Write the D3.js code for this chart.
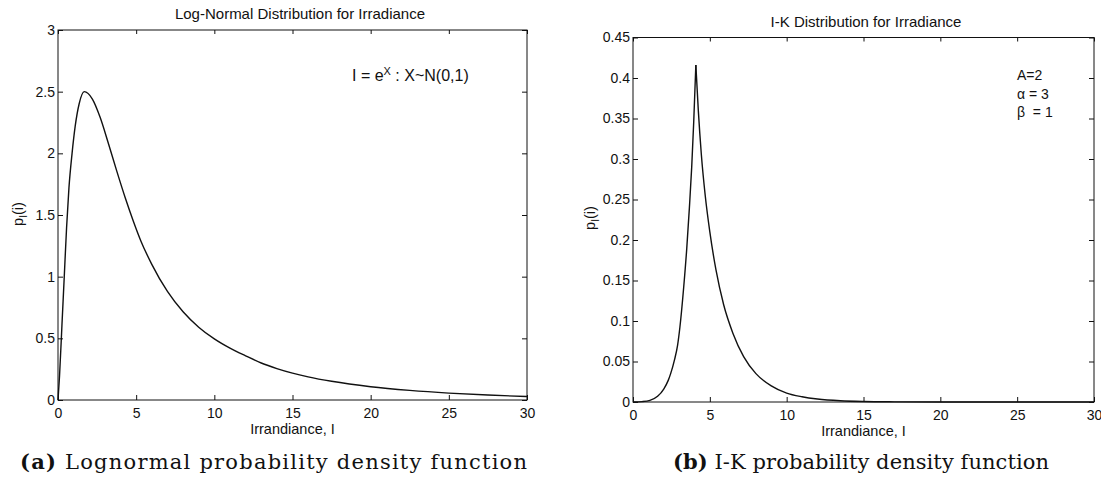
<!DOCTYPE html>
<html>
<head>
<meta charset="utf-8">
<script src="https://cdn.jsdelivr.net/npm/d3@7"></script>
<style>
  body { margin: 0; background: #fff; }
  svg { display: block; }
</style>
</head>
<body>
<div id="chart"></div>
<script>
// values

// (a) lognormal pdf
const lnX = [0, 0.1, 0.25, 0.4, 0.55, 0.7, 0.9, 1.1, 1.35, 1.68, 2.2, 2.7, 3.2, 3.75, 4.3, 4.82, 5.3, 6, 7, 8, 9, 10, 11, 12, 13, 14, 15, 16, 17.5, 20, 22.5, 25, 27.5, 30];
const lnY = [0, 0.2, 0.6, 1.0, 1.4, 1.72, 2.0, 2.22, 2.4, 2.5, 2.44, 2.29, 2.09, 1.86, 1.64, 1.45, 1.29, 1.1, 0.88, 0.715, 0.59, 0.495, 0.42, 0.358, 0.3, 0.255, 0.218, 0.188, 0.152, 0.108, 0.078, 0.056, 0.04, 0.028];

// (b) I-K pdf, rising branch up to the cusp, then falling branch
const ikRiseX = [0, 0.6, 1.1, 1.6, 2.0, 2.3, 2.45, 2.7, 2.9, 3.05, 3.3, 3.5, 3.67, 3.82, 3.95, 4.09];
const ikRiseY = [0, 0.0005, 0.002, 0.007, 0.016, 0.027, 0.035, 0.052, 0.07, 0.092, 0.142, 0.19, 0.24, 0.29, 0.345, 0.416];
const ikFallX = [4.09, 4.25, 4.45, 4.7, 5.0, 5.4, 5.9, 6.5, 7.2, 8.0, 9.0, 10, 11, 12, 13.5, 15, 17, 20, 25, 30];
const ikFallY = [0.416, 0.36, 0.305, 0.255, 0.21, 0.163, 0.12, 0.085, 0.056, 0.035, 0.02, 0.011, 0.0065, 0.0037, 0.0015, 0.0006, 0.0002, 0, 0, 0];

const xTicks = [0, 5, 10, 15, 20, 25, 30];
const lnYTicks = [0, 0.5, 1, 1.5, 2, 2.5, 3];
const lnYLabels = ["0", "0.5", "1", "1.5", "2", "2.5", "3"];
const ikYTicks = [0, 0.05, 0.1, 0.15, 0.2, 0.25, 0.3, 0.35, 0.4, 0.45];
const ikYLabels = ["0", "0.05", "0.1", "0.15", "0.2", "0.25", "0.3", "0.35", "0.4", "0.45"];

const W = 1101, H = 483;
const sans = "'Liberation Sans', Arial, Helvetica, sans-serif";
const ink = "#111";

const svg = d3.select("#chart").append("svg")
    .attr("width", W)
    .attr("height", H);

// one MATLAB-like axes box with inward ticks on all four sides
function drawPanel(opts) {
    const x = d3.scaleLinear().domain([0, 30]).range([opts.left, opts.right]);
    const y = d3.scaleLinear().domain([0, opts.ymax]).range([opts.bottom, opts.top]);
    const g = svg.append("g");

    const styleAxis = sel => {
        sel.select(".domain").remove();
        sel.selectAll("line").attr("stroke", ink);
        sel.selectAll("text")
            .attr("fill", ink)
            .style("font-family", sans)
            .style("font-size", "14px");
    };

    g.append("g")
        .attr("transform", `translate(0,${opts.bottom})`)
        .call(d3.axisBottom(x).tickValues(xTicks).tickSizeInner(-5).tickSizeOuter(0).tickPadding(8).tickFormat(d3.format("d")))
        .call(styleAxis);
    g.append("g")
        .attr("transform", `translate(0,${opts.top})`)
        .call(d3.axisTop(x).tickValues(xTicks).tickSizeInner(-4).tickSizeOuter(0).tickFormat(""))
        .call(styleAxis);
    g.append("g")
        .attr("transform", `translate(${opts.left},0)`)
        .call(d3.axisLeft(y).tickValues(opts.yTicks).tickSizeInner(-5).tickSizeOuter(0).tickPadding(3)
            .tickFormat((d, i) => opts.yLabels[i]))
        .call(styleAxis);
    g.append("g")
        .attr("transform", `translate(${opts.right},0)`)
        .call(d3.axisRight(y).tickValues(opts.yTicks).tickSizeInner(-5).tickSizeOuter(0).tickFormat(""))
        .call(styleAxis);

    g.append("rect")
        .attr("x", opts.left)
        .attr("y", opts.top)
        .attr("width", opts.right - opts.left)
        .attr("height", opts.bottom - opts.top)
        .attr("fill", "none")
        .attr("stroke", ink)
        .attr("stroke-width", 1);

    const line = d3.line()
        .x(d => x(d[0]))
        .y(d => y(d[1]))
        .curve(d3.curveMonotoneX);

    opts.series.forEach(s => {
        g.append("path")
            .datum(d3.zip(s[0], s[1]))
            .attr("d", line)
            .attr("fill", "none")
            .attr("stroke", ink)
            .attr("stroke-width", 1.4)
            .attr("stroke-linejoin", "round");
    });

    // title
    g.append("text")
        .attr("x", opts.titleX)
        .attr("y", opts.titleY)
        .attr("text-anchor", "middle")
        .style("font-family", sans)
        .style("font-size", "15px")
        .attr("fill", ink)
        .text(opts.title);

    // x label
    g.append("text")
        .attr("x", (opts.left + opts.right) / 2)
        .attr("y", opts.bottom + 34)
        .attr("text-anchor", "middle")
        .style("font-family", sans)
        .style("font-size", "14.5px")
        .attr("fill", ink)
        .text("Irrandiance, I");

    // y label p_I(i)
    const yl = g.append("text")
        .attr("transform", `translate(${opts.ylabelX},${opts.ylabelY}) rotate(-90)`)
        .attr("text-anchor", "middle")
        .style("font-family", sans)
        .style("font-size", "14.5px")
        .attr("fill", ink);
    yl.append("tspan").text("p");
    yl.append("tspan").attr("dy", 4).style("font-size", "10px").text("I");
    yl.append("tspan").attr("dy", -4).text("(i)");

    return { g, x, y };
}

const left = drawPanel({
    left: 58, right: 527, top: 30, bottom: 400,
    ymax: 3, yTicks: lnYTicks, yLabels: lnYLabels,
    series: [[lnX, lnY]],
    title: "Log-Normal Distribution for Irradiance", titleX: 300, titleY: 19,
    ylabelX: 23, ylabelY: 214
});

const right = drawPanel({
    left: 633, right: 1094, top: 37.5, bottom: 402,
    ymax: 0.45, yTicks: ikYTicks, yLabels: ikYLabels,
    series: [[ikRiseX, ikRiseY], [ikFallX, ikFallY]],
    title: "I-K Distribution for Irradiance", titleX: 866, titleY: 26.5,
    ylabelX: 595, ylabelY: 218
});

// annotation, left panel
const ann = left.g.append("text")
    .attr("x", 352)
    .attr("y", 81)
    .style("font-family", sans)
    .style("font-size", "16px")
    .attr("fill", ink);
ann.append("tspan").text("I = e");
ann.append("tspan").attr("dy", -6).style("font-size", "11px").text("X");
ann.append("tspan").attr("dy", 6).text(" : X~N(0,1)");

// annotation, right panel
const params = ["A=2", "\u03b1 = 3", "\u03b2  = 1"];
right.g.selectAll(".param")
    .data(params)
    .join("text")
    .attr("class", "param")
    .attr("x", 1017)
    .attr("y", (d, i) => 80 + i * 18.5)
    .style("font-family", sans)
    .style("font-size", "14px")
    .style("white-space", "pre")
    .attr("fill", ink)
    .text(d => d);

// sub-figure captions
const captions = [
    { tag: "(a)", text: " Lognormal probability density function", x: 20, len: 507 },
    { tag: "(b)", text: " I-K probability density function", x: 673, len: 376 }
];
captions.forEach(c => {
    const t = svg.append("text")
        .attr("x", c.x)
        .attr("y", 469)
        .attr("textLength", c.len)
        .attr("lengthAdjust", "spacing")
        .style("font-family", "'DejaVu Serif', 'Liberation Serif', serif")
        .style("font-size", "21px")
        .style("white-space", "pre")
        .attr("fill", ink);
    t.append("tspan").style("font-weight", "bold").text(c.tag);
    t.append("tspan").text(c.text);
});
</script>
</body>
</html>
